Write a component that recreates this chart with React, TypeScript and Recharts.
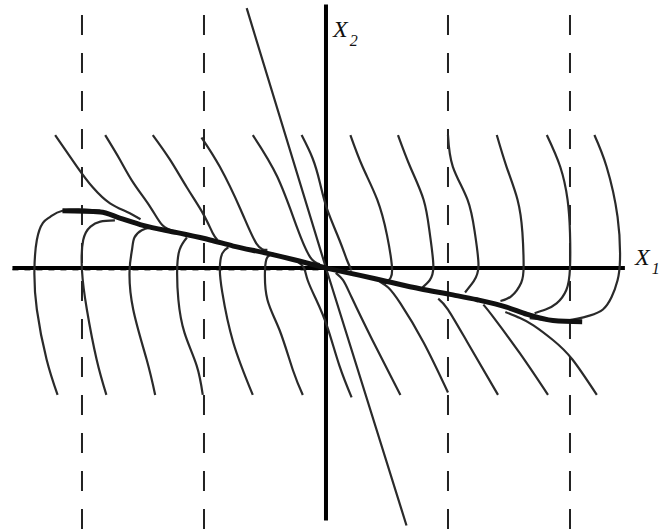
import React from 'react';
import { LineChart, Line, XAxis, YAxis, ReferenceLine } from 'recharts';

type Pt = { x: number; y: number };

// phase plane (x1, x2); switching lines at x1 = ±1, ±2
const switchLines = [-2, -1, 1, 2];

// trajectories entering from the top-left, sliding onto the line
const tl1: Pt[] = [
  { x: -2.22, y: 1.09 }, { x: -2.04, y: 0.83 }, { x: -1.91, y: 0.66 },
  { x: -1.77, y: 0.53 }, { x: -1.63, y: 0.46 }, { x: -1.52, y: 0.4 },
];
const tl2: Pt[] = [
  { x: -1.81, y: 1.09 }, { x: -1.69, y: 0.89 }, { x: -1.58, y: 0.7 },
  { x: -1.44, y: 0.5 }, { x: -1.34, y: 0.35 }, { x: -1.24, y: 0.3 },
];
const tl3: Pt[] = [
  { x: -1.42, y: 1.09 }, { x: -1.28, y: 0.89 }, { x: -1.14, y: 0.66 },
  { x: -1.01, y: 0.45 }, { x: -0.93, y: 0.29 }, { x: -0.89, y: 0.23 },
];
const tl4: Pt[] = [
  { x: -1.02, y: 1.07 }, { x: -0.87, y: 0.83 }, { x: -0.7, y: 0.48 },
  { x: -0.57, y: 0.2 }, { x: -0.48, y: 0.15 },
];
const tl5: Pt[] = [
  { x: -0.6, y: 1.09 }, { x: -0.4, y: 0.75 }, { x: -0.24, y: 0.34 },
  { x: -0.13, y: 0.09 }, { x: -0.05, y: 0.03 },
];
const tl6: Pt[] = [
  { x: -0.2, y: 1.09 }, { x: -0.11, y: 0.9 }, { x: -0.05, y: 0.7 },
  { x: 0.01, y: 0.48 }, { x: 0.11, y: 0.23 }, { x: 0.17, y: 0.07 }, { x: 0.21, y: -0.02 },
];

// trajectories entering from the bottom-left, bending right over the x1 axis
const bl1: Pt[] = [
  { x: -2.2, y: -1.04 }, { x: -2.29, y: -0.75 }, { x: -2.37, y: -0.34 },
  { x: -2.39, y: -0.02 }, { x: -2.37, y: 0.23 }, { x: -2.32, y: 0.37 },
  { x: -2.26, y: 0.42 }, { x: -2.16, y: 0.47 }, { x: -1.98, y: 0.48 }, { x: -1.85, y: 0.47 },
];
const bl2: Pt[] = [
  { x: -1.8, y: -1.04 }, { x: -1.88, y: -0.75 }, { x: -1.96, y: -0.34 },
  { x: -2.0, y: -0.02 }, { x: -1.99, y: 0.23 }, { x: -1.93, y: 0.34 },
  { x: -1.85, y: 0.38 }, { x: -1.73, y: 0.39 },
];
const bl3: Pt[] = [
  { x: -1.4, y: -1.04 }, { x: -1.47, y: -0.75 }, { x: -1.58, y: -0.34 },
  { x: -1.61, y: -0.02 }, { x: -1.59, y: 0.15 }, { x: -1.57, y: 0.25 },
  { x: -1.51, y: 0.31 }, { x: -1.44, y: 0.33 },
];
const bl4: Pt[] = [
  { x: -1.01, y: -1.04 }, { x: -1.06, y: -0.8 }, { x: -1.16, y: -0.53 },
  { x: -1.21, y: -0.26 }, { x: -1.22, y: -0.02 }, { x: -1.2, y: 0.15 }, { x: -1.14, y: 0.25 },
];
const bl5: Pt[] = [
  { x: -0.6, y: -1.04 }, { x: -0.76, y: -0.61 }, { x: -0.85, y: -0.2 },
  { x: -0.87, y: 0.0 }, { x: -0.85, y: 0.12 }, { x: -0.8, y: 0.17 },
];
const bl6: Pt[] = [
  { x: -0.19, y: -1.04 }, { x: -0.27, y: -0.84 }, { x: -0.38, y: -0.51 },
  { x: -0.48, y: -0.26 }, { x: -0.5, y: -0.02 }, { x: -0.48, y: 0.09 }, { x: -0.43, y: 0.12 },
];

// trajectories entering from the top-right, bending left under the x1 axis
const tr1: Pt[] = [
  { x: 0.2, y: 1.09 }, { x: 0.3, y: 0.83 }, { x: 0.42, y: 0.56 },
  { x: 0.5, y: 0.27 }, { x: 0.54, y: 0.02 }, { x: 0.53, y: -0.08 }, { x: 0.48, y: -0.13 },
];
const tr2: Pt[] = [
  { x: 0.59, y: 1.09 }, { x: 0.69, y: 0.83 }, { x: 0.8, y: 0.56 },
  { x: 0.85, y: 0.29 }, { x: 0.88, y: 0.02 }, { x: 0.85, y: -0.1 }, { x: 0.79, y: -0.16 },
];
const tr3: Pt[] = [
  { x: 1.0, y: 1.09 }, { x: 1.04, y: 0.83 }, { x: 1.16, y: 0.56 },
  { x: 1.22, y: 0.29 }, { x: 1.25, y: 0.02 }, { x: 1.21, y: -0.11 }, { x: 1.14, y: -0.2 },
];
const tr4: Pt[] = [
  { x: 1.4, y: 1.09 }, { x: 1.48, y: 0.83 }, { x: 1.57, y: 0.56 },
  { x: 1.61, y: 0.29 }, { x: 1.62, y: 0.02 }, { x: 1.6, y: -0.12 },
  { x: 1.52, y: -0.23 }, { x: 1.43, y: -0.27 },
];
const tr5: Pt[] = [
  { x: 1.81, y: 1.09 }, { x: 1.92, y: 0.83 }, { x: 1.98, y: 0.56 },
  { x: 2.0, y: 0.29 }, { x: 2.0, y: 0.0 }, { x: 1.97, y: -0.18 },
  { x: 1.89, y: -0.29 }, { x: 1.8, y: -0.34 }, { x: 1.71, y: -0.37 },
];
const tr6: Pt[] = [
  { x: 2.2, y: 1.09 }, { x: 2.3, y: 0.83 }, { x: 2.39, y: 0.42 },
  { x: 2.41, y: 0.07 }, { x: 2.39, y: -0.1 }, { x: 2.34, y: -0.24 },
  { x: 2.27, y: -0.34 }, { x: 2.16, y: -0.39 }, { x: 1.98, y: -0.43 },
  { x: 1.84, y: -0.43 }, { x: 1.67, y: -0.41 },
];

// trajectories leaving toward the bottom-right
const br1: Pt[] = [
  { x: 0.21, y: -1.06 }, { x: 0.11, y: -0.8 }, { x: 0.01, y: -0.48 },
  { x: -0.08, y: -0.26 }, { x: -0.15, y: -0.1 }, { x: -0.18, y: 0.0 }, { x: -0.23, y: 0.05 },
];
const br2: Pt[] = [
  { x: 0.61, y: -1.04 }, { x: 0.38, y: -0.59 }, { x: 0.21, y: -0.24 },
  { x: 0.14, y: -0.1 }, { x: 0.08, y: -0.04 },
];
const br3: Pt[] = [
  { x: 1.0, y: -1.02 }, { x: 0.8, y: -0.61 }, { x: 0.61, y: -0.29 },
  { x: 0.51, y: -0.16 }, { x: 0.44, y: -0.11 },
];
const br4: Pt[] = [
  { x: 1.41, y: -1.04 }, { x: 1.16, y: -0.61 }, { x: 1.0, y: -0.34 }, { x: 0.92, y: -0.25 },
];
const br5: Pt[] = [
  { x: 1.82, y: -1.04 }, { x: 1.59, y: -0.7 }, { x: 1.37, y: -0.4 }, { x: 1.29, y: -0.3 },
];
const br6: Pt[] = [
  { x: 2.22, y: -1.04 }, { x: 2.02, y: -0.75 }, { x: 1.86, y: -0.59 },
  { x: 1.7, y: -0.47 }, { x: 1.59, y: -0.41 }, { x: 1.47, y: -0.36 },
];

// steep trajectory straight through the origin
const steep: Pt[] = [
  { x: -0.65, y: 2.13 }, { x: 0, y: 0 }, { x: 0.66, y: -2.11 },
];

// sliding segment where the trajectories pile up
const slideLeft: Pt[] = [
  { x: -2.16, y: 0.47 }, { x: -1.85, y: 0.46 }, { x: -1.69, y: 0.41 },
  { x: -1.5, y: 0.35 }, { x: -1.22, y: 0.29 }, { x: -0.95, y: 0.23 },
  { x: -0.76, y: 0.18 }, { x: -0.48, y: 0.12 }, { x: -0.27, y: 0.07 }, { x: 0, y: 0 },
];
const slideRight: Pt[] = [
  { x: 0, y: 0 }, { x: 0.28, y: -0.06 }, { x: 0.5, y: -0.11 },
  { x: 0.77, y: -0.17 }, { x: 1.04, y: -0.22 }, { x: 1.24, y: -0.26 },
  { x: 1.48, y: -0.32 }, { x: 1.65, y: -0.38 }, { x: 1.86, y: -0.43 }, { x: 2.1, y: -0.44 },
];

const trajectories = [
  tl1, tl2, tl3, tl4, tl5, tl6,
  bl1, bl2, bl3, bl4, bl5, bl6,
  tr1, tr2, tr3, tr4, tr5, tr6,
  br1, br2, br3, br4, br5, br6,
];

const W = 661;
const H = 529;

const labelStyle: React.CSSProperties = {
  position: 'absolute',
  fontFamily: '"Liberation Serif", "DejaVu Serif", serif',
  fontStyle: 'italic',
  fontSize: 24,
  color: '#111',
  lineHeight: 1,
  whiteSpace: 'nowrap',
};

const subStyle: React.CSSProperties = {
  fontSize: 16,
  verticalAlign: 'baseline',
  position: 'relative',
  top: 9,
  left: 2,
};

const App: React.FC = () => {
  return (
    <div style={{ position: 'absolute', left: 0, top: 0, width: W, height: H, background: '#fff', overflow: 'hidden' }}>
      <LineChart width={W} height={H} margin={{ top: 0, right: 0, bottom: 0, left: 0 }}>
        <XAxis type="number" dataKey="x" domain={[-2.672, 2.746]} hide allowDataOverflow />
        <YAxis type="number" dataKey="y" domain={[-2.139, 2.197]} hide allowDataOverflow />

        {switchLines.map((v) => (
          <ReferenceLine key={`sw${v}`} x={v} stroke="#222" strokeWidth={2} strokeDasharray="20 18" />
        ))}
        <ReferenceLine
          segment={[{ x: -2.57, y: -0.015 }, { x: 0, y: -0.015 }]}
          stroke="#444"
          strokeWidth={1.5}
          strokeDasharray="6 6"
        />

        {/* axes */}
        <ReferenceLine segment={[{ x: -2.57, y: 0 }, { x: 2.45, y: 0 }]} stroke="#000" strokeWidth={4} />
        <ReferenceLine segment={[{ x: 0, y: 2.16 }, { x: 0, y: -2.07 }]} stroke="#000" strokeWidth={4} />

        {trajectories.map((pts, i) => (
          <Line
            key={`tr${i}`}
            data={pts}
            dataKey="y"
            type="natural"
            stroke="#2a2a2a"
            strokeWidth={2.2}
            dot={false}
            activeDot={false}
            isAnimationActive={false}
          />
        ))}
        <Line data={steep} dataKey="y" type="linear" stroke="#2a2a2a" strokeWidth={2.2}
          dot={false} activeDot={false} isAnimationActive={false} />
        <Line data={slideLeft} dataKey="y" type="monotone" stroke="#111" strokeWidth={5}
          dot={false} activeDot={false} isAnimationActive={false} />
        <Line data={slideRight} dataKey="y" type="monotone" stroke="#111" strokeWidth={5}
          dot={false} activeDot={false} isAnimationActive={false} />
      </LineChart>

      <div style={{ ...labelStyle, left: 333, top: 17 }}>
        X<sub style={subStyle}>2</sub>
      </div>
      <div style={{ ...labelStyle, left: 635, top: 245 }}>
        X<sub style={subStyle}>1</sub>
      </div>
    </div>
  );
};

export default App;
